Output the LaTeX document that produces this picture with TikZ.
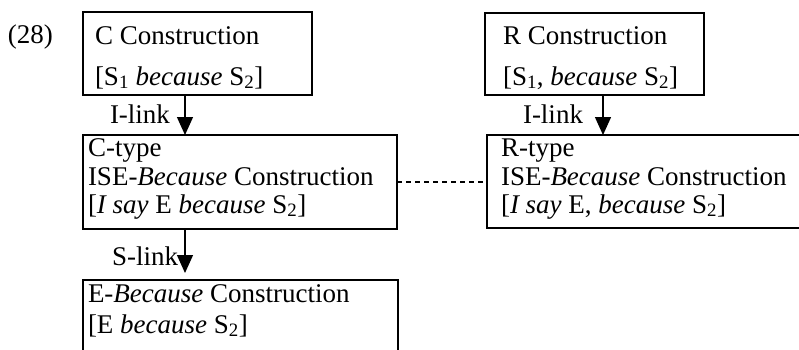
\documentclass[tikz,border=0pt]{standalone}
\usepackage{fontspec}
\setmainfont{Liberation Serif}
\usetikzlibrary{arrows.meta,calc}
\begin{document}
\begin{tikzpicture}[x=1pt,y=-1pt,
  font=\fontsize{27}{32}\selectfont,
  boxnode/.style={draw,line width=1.4pt,rectangle,anchor=north west,inner sep=0pt,outer sep=0pt},
  txt/.style={anchor=base west,inner sep=0pt,outer sep=0pt},
  arr/.style={line width=1.3pt,-{Triangle[length=18pt,width=16pt]}},
  link/.style={dashed,line width=1.1pt,dash pattern=on 5pt off 4pt}]
\useasboundingbox (0,0) rectangle (799,349);
\clip (0,0) rectangle (799,349);
% boxes
\node[boxnode,minimum width=229pt,minimum height=83pt] (cbox) at (83,12) {};
\node[boxnode,minimum width=219pt,minimum height=82pt] (rbox) at (485,13) {};
\node[boxnode,minimum width=314pt,minimum height=94pt] (ctype) at (83,135) {};
\node[boxnode,minimum width=380pt,minimum height=93pt] (rtype) at (487,135) {};
\node[boxnode,minimum width=315pt,minimum height=90pt] (ebox) at (83,280) {};
% texts
\node[txt] (t28) at (8,43) {(28)};
\node[txt] (c1) at (95,44) {C Construction};
\node[txt] (c2) at (95,85) {[S\textsubscript{1} \textit{because} S\textsubscript{2}]};
\node[txt] (r1) at (503,44) {R Construction};
\node[txt] (r2) at (503,85) {[S\textsubscript{1}, \textit{because} S\textsubscript{2}]};
\node[txt] (il1) at (110,123) {I-link};
\node[txt] (il2) at (523,123) {I-link};
\node[txt] (ct1) at (88,156) {C-type};
\node[txt] (ct2) at (88,185) {ISE-\textit{Because} Construction};
\node[txt] (ct3) at (88,213) {[\textit{I say} E \textit{because} S\textsubscript{2}]};
\node[txt] (rt1) at (501,156) {R-type};
\node[txt] (rt2) at (501,185) {ISE-\textit{Because} Construction};
\node[txt] (rt3) at (501,213) {[\textit{I say} E, \textit{because} S\textsubscript{2}]};
\node[txt] (sl) at (112,265) {S-link};
\node[txt] (e1) at (88,302) {E-\textit{Because} Construction};
\node[txt] (e2) at (88,333) {[E \textit{because} S\textsubscript{2}]};
% connectors
\draw[arr] ([xshift=102pt]cbox.south west) -- ([xshift=102pt]ctype.north west);
\draw[arr] ([xshift=118pt]rbox.south west) -- ([xshift=116pt]rtype.north west);
\draw[arr] ([xshift=102pt]ctype.south west) -- ([xshift=102pt,yshift=7pt]ebox.north west);
\draw[link] (ctype.east) -- (ctype.east -| rtype.west);
\end{tikzpicture}
\end{document}
